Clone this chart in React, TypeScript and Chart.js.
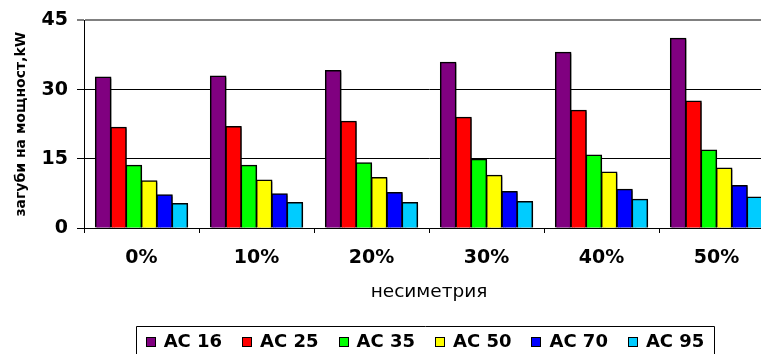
import React, { useEffect, useRef } from "react";
import { Chart, registerables } from "chart.js";

Chart.register(...registerables);

const categories = ["0%", "10%", "20%", "30%", "40%", "50%"];
const seriesNames = ["AC 16", "AC 25", "AC 35", "AC 50", "AC 70", "AC 95"];
const ac16 = [32.7, 32.9, 34.1, 35.9, 38.1, 41.1];
const ac25 = [21.8, 22.0, 23.1, 24.0, 25.5, 27.5];
const ac35 = [13.6, 13.6, 14.1, 14.9, 15.8, 16.9];
const ac50 = [10.2, 10.4, 10.9, 11.4, 12.1, 13.0];
const ac70 = [7.2, 7.4, 7.7, 7.9, 8.4, 9.2];
const ac95 = [5.3, 5.5, 5.5, 5.7, 6.2, 6.7];
const seriesColors = ["#800080", "#FF0000", "#00FF00", "#FFFF00", "#0000FF", "#00CCFF"];
const yTicks = [0, 15, 30, 45];
const yTitle = "загуби на мощност,kW";
const xTitle = "несиметрия";

const FONT = "'DejaVu Sans', sans-serif";
const CANVAS_W = 790;
const CANVAS_H = 354;

const barShadow = {
  id: "barShadow",
  beforeDatasetsDraw(chart: any) {
    const ctx = chart.ctx as CanvasRenderingContext2D;
    ctx.save();
    ctx.shadowColor = "rgba(0,0,0,0.35)";
    ctx.shadowOffsetX = 2;
    ctx.shadowOffsetY = 1;
    ctx.shadowBlur = 0;
  },
  afterDatasetsDraw(chart: any) {
    chart.ctx.restore();
  },
};

const boxLegend = {
  id: "boxLegend",
  afterDraw(chart: any) {
    const ctx = chart.ctx as CanvasRenderingContext2D;
    const ds = chart.data.datasets;
    ctx.save();
    ctx.font = `bold 18px ${FONT}`;
    const sq = 10;
    const gapSqText = 8;
    const gapItem = 20;
    const widths = ds.map((d: any) => ctx.measureText(d.label).width);
    let total = 0;
    widths.forEach((w: number, i: number) => {
      total += sq + gapSqText + w + (i < widths.length - 1 ? gapItem : 0);
    });
    const ca = chart.chartArea;
    const cx = (ca.left + ca.right) / 2 - 4;
    const padX = 10;
    const boxLeft = Math.round(cx - total / 2 - padX) + 0.5;
    const boxRight = Math.round(cx + total / 2 + padX) + 0.5;
    const boxTop = 326.5;
    const boxBottom = 370;
    ctx.strokeStyle = "#000";
    ctx.lineWidth = 1;
    ctx.beginPath();
    ctx.moveTo(boxLeft, boxBottom);
    ctx.lineTo(boxLeft, boxTop);
    ctx.lineTo(boxRight, boxTop);
    ctx.lineTo(boxRight, boxBottom);
    ctx.stroke();
    let x = cx - total / 2;
    const cy = 341.5;
    ds.forEach((d: any, i: number) => {
      ctx.fillStyle = d.backgroundColor;
      ctx.fillRect(Math.round(x), Math.round(cy - sq / 2), sq, sq);
      ctx.strokeStyle = "#000";
      ctx.strokeRect(Math.round(x) + 0.5, Math.round(cy - sq / 2) + 0.5, sq - 1, sq - 1);
      ctx.fillStyle = "#000";
      ctx.textBaseline = "middle";
      ctx.textAlign = "left";
      ctx.fillText(d.label, x + sq + gapSqText, cy + 1);
      x += sq + gapSqText + widths[i] + gapItem;
    });
    ctx.restore();
  },
};

export default function App() {
  const ref = useRef<HTMLCanvasElement>(null);
  useEffect(() => {
    if (!ref.current) return;
    const values = [ac16, ac25, ac35, ac50, ac70, ac95];
    const chart = new Chart(ref.current, {
      type: "bar",
      data: {
        labels: categories,
        datasets: seriesNames.map((name, i) => ({
          label: name,
          data: values[i],
          backgroundColor: seriesColors[i],
          borderColor: "#000",
          borderWidth: 1.5,
          inflateAmount: 0.6,
          categoryPercentage: 0.8,
          barPercentage: 1.0,
        })),
      },
      plugins: [barShadow, boxLegend],
      options: {
        animation: false,
        responsive: false,
        devicePixelRatio: 1,
        layout: { padding: { top: 14, left: 0, right: CANVAS_W - 774, bottom: 0 } },
        plugins: {
          legend: { display: false },
          tooltip: { enabled: false },
        },
        scales: {
          x: {
            grid: {
              offset: true,
              drawOnChartArea: false,
              drawTicks: true,
              tickLength: 5,
              color: "#000",
            },
            border: { display: true, color: "#000", width: 1 },
            ticks: {
              font: { family: FONT, size: 19, weight: "bold" },
              color: "#000",
              padding: 14,
              maxRotation: 0,
            },
            title: {
              display: true,
              text: xTitle,
              font: { family: FONT, size: 18.5 },
              color: "#000",
              padding: { top: 0, bottom: 51 },
            },
            afterFit: (s: any) => {
              s.height = 126;
            },
          },
          y: {
            min: 0,
            max: 45,
            afterBuildTicks: (s: any) => {
              s.ticks = yTicks.map((v) => ({ value: v }));
            },
            grid: {
              color: (c: any) => (c.tick && c.tick.value === 45 ? "#808080" : "#000"),
              lineWidth: (c: any) => (c.tick && c.tick.value === 45 ? 2 : 1),
              tickLength: 7,
              drawTicks: true,
            },
            border: { display: true, color: "#000", width: 1 },
            ticks: {
              font: { family: FONT, size: 19, weight: "bold" },
              color: "#000",
              padding: 9,
            },
            title: {
              display: true,
              text: yTitle,
              font: { family: FONT, size: 14, weight: "bold" },
              color: "#000",
              padding: { top: 13, bottom: 0 },
            },
            afterFit: (s: any) => {
              s.width = 84;
            },
          },
        },
      },
    });
    return () => chart.destroy();
  }, []);
  return (
    <div
      style={{
        position: "fixed",
        left: 0,
        top: 0,
        width: 761,
        height: 354,
        overflow: "hidden",
        background: "#fff",
      }}
    >
      <canvas
        ref={ref}
        width={CANVAS_W}
        height={CANVAS_H}
        style={{ width: CANVAS_W, height: CANVAS_H, display: "block" }}
      />
    </div>
  );
}
